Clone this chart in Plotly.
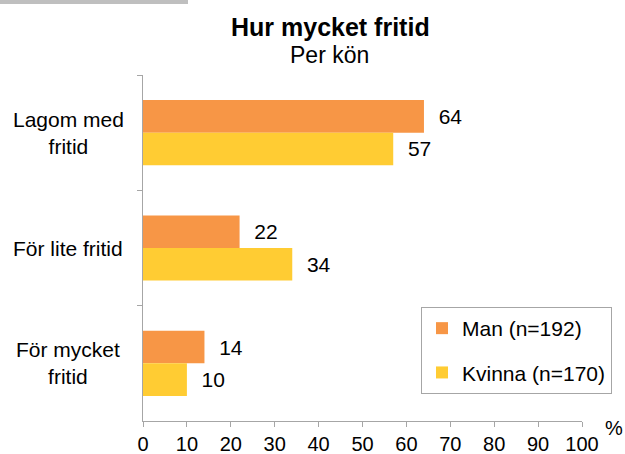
import plotly.graph_objects as go

categories = ["Lagom med<br>fritid", "För lite fritid", "För mycket<br>fritid"]
man_values = [64, 22, 14]
kvinna_values = [57, 34, 10]
series_names = ["Man (n=192)", "Kvinna (n=170)"]
x_ticks = [0, 10, 20, 30, 40, 50, 60, 70, 80, 90, 100]

W, H = 625, 454
L, R, T, B = 143, 43, 75, 33
pw, ph = W - L - R, H - T - B

def px_to_paper_x(px):
    return (px - L) / pw

def px_to_paper_y(py):
    return (H - B - py) / ph

FONT = "Liberation Sans, Arial, sans-serif"
FS = 21
NB = "\u00a0\u00a0"

fig = go.Figure()
fig.add_trace(go.Bar(
    y=categories, x=man_values, name=series_names[0], orientation="h",
    marker=dict(color="#F79646", line=dict(width=0)),
    text=man_values, texttemplate=NB + "%{x}", textposition="outside",
    textfont=dict(size=FS, color="black", family=FONT),
    cliponaxis=False, legendgroup="a",
))
fig.add_trace(go.Bar(
    y=categories, x=kvinna_values, name=series_names[1], orientation="h",
    marker=dict(color="#FFCC33", line=dict(width=0)),
    text=kvinna_values, texttemplate=NB + "%{x}", textposition="outside",
    textfont=dict(size=FS, color="black", family=FONT),
    cliponaxis=False, legendgroup="b",
))

annotations = []
for c in categories:
    annotations.append(dict(
        x=px_to_paper_x(68), xref="paper", y=c, yref="y", text=c, showarrow=False,
        xanchor="center", yanchor="middle", align="center",
        font=dict(size=FS, color="black", family=FONT),
    ))
annotations.append(dict(x=px_to_paper_x(624), xref="paper", y=px_to_paper_y(428), yref="paper",
                        text="%", showarrow=False, xanchor="right", yanchor="middle",
                        borderpad=0, font=dict(size=20, color="black", family=FONT)))
annotations.append(dict(x=px_to_paper_x(330), xref="paper", y=px_to_paper_y(27), yref="paper",
                        text="<b>Hur mycket fritid</b>", showarrow=False, xanchor="center", yanchor="middle",
                        font=dict(size=25, color="black", family=FONT)))
annotations.append(dict(x=px_to_paper_x(329), xref="paper", y=px_to_paper_y(55), yref="paper",
                        text="Per kön", showarrow=False, xanchor="center", yanchor="middle",
                        font=dict(size=23, color="black", family=FONT)))

fig.update_layout(
    width=W, height=H,
    margin=dict(l=L, r=R, t=T, b=B, autoexpand=False),
    paper_bgcolor="white", plot_bgcolor="white",
    barmode="group", bargap=0.435, bargroupgap=0,
    font=dict(family=FONT, size=FS, color="black"),
    showlegend=True,
    legend=dict(
        x=px_to_paper_x(421), y=px_to_paper_y(307), xanchor="left", yanchor="top",
        bordercolor="#A6A6A6", borderwidth=1, bgcolor="white",
        font=dict(size=FS, family=FONT), traceorder="grouped", tracegroupgap=14,
        itemwidth=30,
    ),
    annotations=annotations,
    shapes=[dict(type="rect", xref="paper", yref="paper",
                 x0=px_to_paper_x(0), x1=px_to_paper_x(188),
                 y0=px_to_paper_y(4), y1=px_to_paper_y(0),
                 fillcolor="#BFBFBF", line=dict(width=0), layer="above")],
)
fig.update_xaxes(
    range=[0, 100], tickvals=x_ticks, ticktext=[str(v) for v in x_ticks],
    showgrid=False, zeroline=False, showline=True, linecolor="#A6A6A6", linewidth=1,
    ticks="outside", ticklen=5, tickcolor="#A6A6A6", tickfont=dict(size=20),
    ticklabelstandoff=0, fixedrange=True,
)
fig.update_yaxes(
    autorange="reversed", showticklabels=False, showgrid=False, zeroline=False,
    showline=True, linecolor="#A6A6A6", linewidth=1,
    ticks="outside", ticklen=5, tickcolor="#A6A6A6", tickson="boundaries", fixedrange=True,
)

fig.write_html("out.html", config={"displayModeBar": False, "staticPlot": True},
               post_script="document.body.style.margin='0';document.body.style.overflow='hidden';")
